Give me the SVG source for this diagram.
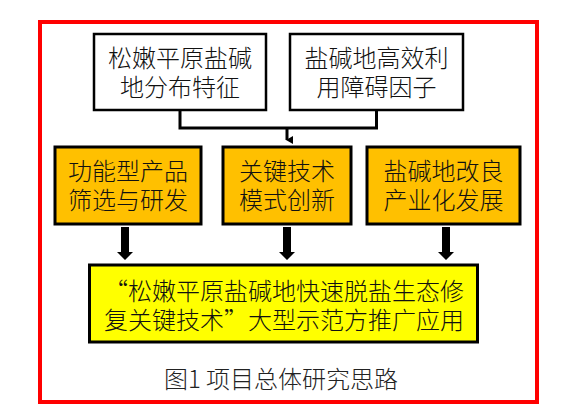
<svg xmlns="http://www.w3.org/2000/svg" width="580" height="415" viewBox="0 0 580 415">
<style>
.t{font-family:"Noto Sans CJK SC","Liberation Serif",sans-serif;font-size:24px;font-weight:300;fill:#111;text-anchor:middle}
.w{fill:#fff;stroke:#000;stroke-width:2.5}
.o{fill:#FFC000;stroke:#000;stroke-width:3}
.y{fill:#FFFF00;stroke:#000;stroke-width:3}
.c{fill:none;stroke:#000;stroke-width:3}
</style>
<defs>
<marker id="ah" markerWidth="8" markerHeight="8" refX="4" refY="6" orient="auto" markerUnits="userSpaceOnUse" viewBox="0 0 8 8">
<path d="M0,0 L8,0 L4,7 Z" fill="#000"/>
</marker>
</defs>
<rect x="40" y="22" width="497" height="380" fill="#fff" stroke="#f00" stroke-width="4"/>
<g id="n1"><rect class="w" x="94" y="34" width="172" height="76"/>
<text class="t" x="180" y="67">松嫩平原盐碱</text><text class="t" x="180" y="96">地分布特征</text></g>
<g id="n2"><rect class="w" x="290" y="34" width="173" height="76"/>
<text class="t" x="376.5" y="67">盐碱地高效利</text><text class="t" x="376.5" y="96">用障碍因子</text></g>
<g id="n3"><rect class="o" x="55" y="147" width="146" height="77"/>
<text class="t" x="128" y="179.5">功能型产品</text><text class="t" x="128" y="208.5">筛选与研发</text></g>
<g id="n4"><rect class="o" x="223" y="147" width="128" height="77"/>
<text class="t" x="287" y="179.5">关键技术</text><text class="t" x="287" y="208.5">模式创新</text></g>
<g id="n5"><rect class="o" x="367" y="147" width="153" height="77"/>
<text class="t" x="443.5" y="179.5">盐碱地改良</text><text class="t" x="443.5" y="208.5">产业化发展</text></g>
<g id="n6"><rect class="y" x="89.5" y="265" width="388" height="77"/>
<text class="t" x="284" y="299.5">“松嫩平原盐碱地快速脱盐生态修</text><text class="t" x="284" y="328.5">复关键技术”大型示范方推广应用</text></g>
<g id="connectors">
<path class="c" d="M180,110 V128 H376.5 V110"/>
<path class="c" d="M287,128 V140" marker-end="url(#ah)"/>
<polygon points="121,227 129,227 129,252 133,252 125,260 117,252 121,252" fill="#000"/>
<polygon points="283,227 291,227 291,252 295,252 287,260 279,252 283,252" fill="#000"/>
<polygon points="442,227 450,227 450,252 454,252 446,260 438,252 442,252" fill="#000"/>
</g>
<text class="t" x="281" y="388" style="fill:#222">图1 项目总体研究思路</text>
</svg>
